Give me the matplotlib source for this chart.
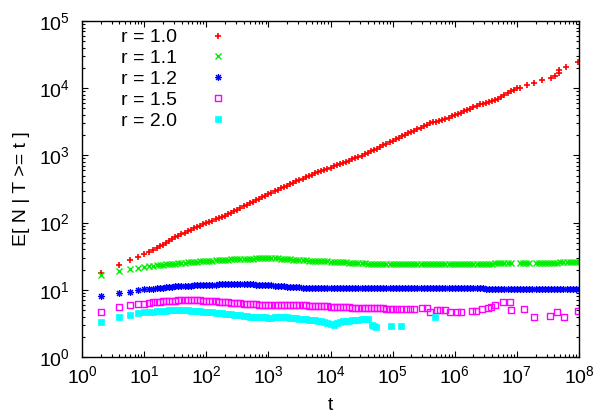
import numpy as np
import matplotlib
matplotlib.use("Agg")
import matplotlib.pyplot as plt
from matplotlib.path import Path
from matplotlib.ticker import LogLocator, NullFormatter

plt.rcParams['font.family'] = ['Liberation Sans', 'DejaVu Sans']
plt.rcParams['font.size'] = 14

# Shared sampling times: even t up to 20, then ~20 samples per decade
T_GRID = [
    2, 4, 6, 8, 10, 12, 14, 16, 18, 20,
    22.4, 25.1, 28.2, 31.6, 35.5, 39.8, 44.7, 50.1, 56.2, 63.1, 70.8, 79.4, 89.1,
    1.00e2, 1.12e2, 1.26e2, 1.41e2, 1.58e2, 1.78e2, 2.00e2, 2.24e2, 2.51e2, 2.82e2,
    3.16e2, 3.55e2, 3.98e2, 4.47e2, 5.01e2, 5.62e2, 6.31e2, 7.08e2, 7.94e2, 8.91e2,
    1.00e3, 1.12e3, 1.26e3, 1.41e3, 1.58e3, 1.78e3, 2.00e3, 2.24e3, 2.51e3, 2.82e3,
    3.16e3, 3.55e3, 3.98e3, 4.47e3, 5.01e3, 5.62e3, 6.31e3, 7.08e3, 7.94e3, 8.91e3,
    1.00e4, 1.12e4, 1.26e4, 1.41e4, 1.58e4, 1.78e4, 2.00e4, 2.24e4, 2.51e4, 2.82e4,
    3.16e4, 3.55e4, 3.98e4, 4.47e4, 5.01e4, 5.62e4, 6.31e4, 7.08e4, 7.94e4, 8.91e4,
    1.00e5, 1.12e5, 1.26e5, 1.41e5, 1.58e5, 1.78e5, 2.00e5, 2.24e5, 2.51e5, 2.82e5,
    3.16e5, 3.55e5, 3.98e5, 4.47e5, 5.01e5, 5.62e5, 6.31e5, 7.08e5, 7.94e5, 8.91e5,
    1.00e6, 1.12e6, 1.26e6, 1.41e6, 1.58e6, 1.78e6, 2.00e6, 2.24e6, 2.51e6, 2.82e6,
    3.16e6, 3.55e6, 3.98e6, 4.47e6, 5.01e6, 5.62e6, 6.31e6, 7.08e6, 7.94e6, 8.91e6,
    1.00e7, 1.12e7, 1.26e7, 1.41e7, 1.58e7, 1.78e7, 2.00e7, 2.24e7, 2.51e7, 2.82e7,
    3.16e7, 3.55e7, 3.98e7, 4.47e7, 5.01e7, 5.62e7, 6.31e7, 7.08e7, 7.94e7, 8.91e7,
    1.00e8,
]

nan = float('nan')

# r = 1.0
R10_VALS = [
    17.6, 23.4, 27.7, 30.4, 33.7, 36.9, 39.4, 42.2, 44.2, 46.5,
    49.5, 53.1, 56.9, 60.3, 63.8, 67.6, 70.8, 74.1, 78.5, 82.2, 86.1, 90.2, 94.4,
    97.7, 102, 107, 112, 117, 123, 127, 133, 141, 148, 155, 164, 174, 182, 193, 204, 214, 226, 237, 251,
    263, 279, 292, 309, 324, 339, 355, 376, 394, 412, 432, 452, 473, 495, 519, 543, 569, 589, 612, 631,
    656, 684, 708, 736, 767, 794, 832, 871, 912, 944, 989, 1035, 1084, 1148, 1202, 1259, 1334, 1413, 1479, 1567,
    1660, 1758, 1841, 1950, 2042, 2138, 2239, 2344, 2455, 2570, 2723, 2851, 2985, 3090, 3162, 3273, 3388, 3508, 3631, 3802,
    3981, 4121, 4315, 4519, 4732, 4955, 5188, 5495, 5754, 5888, 6026, 6166, 6457, 6683, 6998, 7413, 7852, 8511, 9120, 9550,
]
R10_TAIL_T = [1.0e7, 1.12e7, 1.45e7, 1.9e7, 2.5e7, 3.53e7, 4.04e7, 4.68e7, 4.85e7, 6.15e7, 9.8e7]
R10_TAIL_V = [10000, 10100, 11000, 12100, 13200, 14300, 15200, 16700, 18700, 20500, 24300]

# r = 1.1
R11_VALS = [
    16.6, 19.0, 20.4, 21.3, 21.8, 22.3, 22.7, 23.0, 23.3, 23.6,
    23.9, 24.1, 24.3, 24.6, 24.8, 25.1, 25.4, 25.6, 25.8, 26.0, 26.2, 26.4, 26.6,
    26.8, 27.0, 27.2, 27.4, 27.6, 27.8, 28.0, 28.2, 28.3, 28.5, 28.6, 28.8, 28.9, 29.0, 29.1, 29.2, 29.3, 29.4, 29.4, 29.5,
    29.5, 29.5, 29.4, 29.3, 29.1, 28.9, 28.7, 28.4, 28.2, 28.0, 27.8, 27.6, 27.4, 27.2, 27.0, 26.9, 26.8, 26.7, 26.5, 26.4,
    26.3, 26.2, 26.0, 25.9, 25.7, 25.5, 25.3, 25.2, 25.0, 24.9, 24.8, 24.7, 24.6, 24.5, 24.4, 24.3, 24.2, 24.1, 24.0, 24.0,
    23.9, 23.9, 23.8, 23.8, 23.8, 23.8, 23.8, 23.8, 23.9, 23.9, 23.9, 24.0, 24.0, 24.0, 24.0, 24.0, 24.0, 24.0, 24.0, 24.0,
    24.0, 24.1, 24.1, 24.2, 24.2, 24.3, 24.3, 24.4, 24.4, 24.5, 24.5, 24.6, 24.6, 24.7, 24.7, 24.8, 24.8, 24.9, 24.9, nan,
    nan, 25.0, 25.0, 25.1, 25.1, nan, 25.2, 25.2, 25.3, 25.3, 25.3, 25.4, 25.4, 25.4, 25.5, 25.5, 25.5, 25.6, 25.6, 25.6,
    25.7,
]

# r = 1.2
R12_VALS = [
    8.1, 8.87, 9.4, 9.9, 10.2, 10.3, 10.4, 10.6, 10.7, 10.8,
    10.9, 11.0, 11.1, 11.2, 11.3, 11.35, 11.4, 11.5, 11.55, 11.6, 11.7, 11.75, 11.8,
    11.8, 11.85, 11.9, 11.95, 12.0, 12.0, 12.05, 12.1, 12.1, 12.1, 12.1, 12.1, 12.1, 12.05, 12.0, 12.0, 11.95, 11.9, 11.85, 11.8,
    11.7, 11.6, 11.5, 11.4, 11.3, 11.2, 11.1, 11.0, 10.95, 10.9, 10.85, 10.8, 10.8, 10.75, 10.7, 10.7, 10.65, 10.65, 10.6, 10.6,
    10.6, 10.55, 10.55, 10.5, 10.5, 10.5, 10.5, 10.5, 10.5, 10.5, 10.5, 10.5, 10.5, 10.5, 10.5, 10.5, 10.5, 10.5, 10.5, 10.5,
    10.5, 10.5, 10.5, 10.5, 10.5, 10.5, 10.5, 10.5, 10.5, 10.5, 10.5, 10.5, 10.5, 10.5, 10.5, 10.5, 10.5, 10.5, 10.5, 10.5,
    10.5, 10.5, 10.5, 10.5, 10.5, 10.5, 10.5, 10.5, 10.5, 10.5, 10.45, 10.45, 10.45, 10.45, 10.45, 10.45, 10.45, 10.45, 10.45, 10.45,
    10.4, 10.4, 10.4, 10.4, 10.4, 10.4, 10.4, 10.4, 10.4, 10.4, 10.35, 10.35, 10.35, 10.35, 10.35, 10.35, 10.35, 10.35, 10.35, 10.35,
    10.3,
]

# r = 1.5
R15_VALS = [
    4.72, 5.49, 5.87, 6.08, 6.25, 6.4, 6.5, 6.6, 6.65, 6.7,
    6.75, 6.8, 6.85, 6.9, 6.95, 6.97, 7.0, 7.0, 7.0, 7.0, 6.97, 6.95, 6.9,
    6.85, 6.8, 6.75, 6.7, 6.65, 6.6, 6.55, 6.5, 6.45, 6.4, 6.35, 6.3, 6.25, 6.2, 6.15, 6.1, 6.05, 6.0, 6.0, 5.95,
    5.95, 5.95, 5.95, 5.95, 5.95, 5.95, 5.95, 5.95, 5.9, 5.9, 5.9, 5.85, 5.85, 5.8, 5.8, 5.75, 5.75, 5.7, 5.7, 5.65,
    5.6, 5.6, 5.55, 5.55, 5.5, 5.5, 5.5, 5.45, 5.45, 5.45, 5.4, 5.4, 5.4, 5.35, 5.35, 5.3, 5.3, 5.3, 5.25, 5.25,
]
R15_TAIL_T = [1.0e5, 1.17e5, 1.38e5, 1.62e5, 1.91e5, 2.24e5, 2.95e5, 3.55e5, 3.98e5, 5.13e5,
              5.82e5, 7.0e5, 8.43e5, 1.07e6, 1.26e6, 1.88e6, 2.19e6, 2.73e6, 3.39e6, 3.89e6,
              4.47e6, 5.89e6, 7.76e6, 8.13e6, 1.32e7, 1.86e7, 3.47e7, 4.47e7, 5.75e7, 9.77e7]
R15_TAIL_V = [5.12, 5.12, 5.12, 5.1, 5.12, 5.15, 5.35, 5.4, 4.62, 4.95,
              4.95, 5.0, 4.62, 4.72, 4.72, 4.84, 4.9, 5.13, 5.42, 5.6,
              5.87, 6.52, 6.65, 5.0, 5.18, 3.94, 4.12, 4.62, 3.9, 4.84]

# r = 2.0
R20_VALS = [
    3.36, 3.98, 4.22, 4.47, 4.6, 4.7, 4.75, 4.8, 4.85, 4.88,
    4.9, 4.93, 4.95, 4.96, 4.96, 4.96, 4.95, 4.93, 4.9, 4.87, 4.84, 4.8, 4.75,
    4.7, 4.65, 4.6, 4.55, 4.5, 4.45, 4.4, 4.35, 4.3, 4.25, 4.2, 4.15, 4.1, 4.05, 4.0, 3.98, 3.95, 3.92, 3.9, 3.88,
    3.85, 3.85, 3.9, 3.95, 3.95, 3.92, 3.88, 3.82, 3.78, 3.75, 3.72, 3.7, 3.65, 3.6, 3.55, 3.5, 3.45, 3.4, 3.35, 3.25,
    3.1, 3.0, 3.2, 3.35, 3.45, 3.45, 3.45, 3.5, 3.55, 3.6, 3.65, 3.7, 3.65,
]
R20_TAIL_T = [4.62e4, 5.0e4, 5.42e4, 9.33e4, 1.35e5, 4.83e5]
R20_TAIL_V = [3.0, 2.85, 2.77, 2.92, 2.92, 3.98]

LABELS = ['r = 1.0', 'r = 1.1', 'r = 1.2', 'r = 1.5', 'r = 2.0']

# open square with a centre dot
sq_dot = Path(
    [(-1, -1), (1, -1), (1, 1), (-1, 1), (-1, -1),
     (-0.12, -0.12), (0.12, -0.12), (0.12, 0.12), (-0.12, 0.12), (-0.12, -0.12)],
    [Path.MOVETO, Path.LINETO, Path.LINETO, Path.LINETO, Path.CLOSEPOLY,
     Path.MOVETO, Path.LINETO, Path.LINETO, Path.LINETO, Path.CLOSEPOLY])

series = [
    (R10_VALS, R10_TAIL_T, R10_TAIL_V, dict(marker='+', color='#ff0000', ms=5.0, mew=1.2)),
    (R11_VALS, [], [], dict(marker='x', color='#00ee00', ms=4.0, mew=1.0)),
    (R12_VALS, [], [], dict(marker=(8, 2, 0), color='#0000ff', ms=5.0, mew=0.8)),
    (R15_VALS, R15_TAIL_T, R15_TAIL_V, dict(marker=sq_dot, color='#ff00ff', mfc='none', ms=4.2, mew=1.0)),
    (R20_VALS, R20_TAIL_T, R20_TAIL_V, dict(marker='s', color='#00ffff', ms=4.2, mew=0.5)),
]

fig = plt.figure(figsize=(6.05, 4.18), dpi=100)
ax = fig.add_axes([82 / 605, 1 - 357 / 418, (579 - 82) / 605, (357 - 21) / 418])

for (vals, tt, tv, style), lab in zip(series, LABELS):
    t = list(T_GRID[:len(vals)]) + list(tt)
    v = list(vals) + list(tv)
    ax.plot(t, v, linestyle='none', label=lab, **style)

ax.set_xscale('log')
ax.set_yscale('log')
ax.set_xlim(1, 1e8)
ax.set_ylim(1, 1e5)

ax.xaxis.set_major_locator(LogLocator(base=10, numticks=20))
ax.yaxis.set_major_locator(LogLocator(base=10, numticks=20))
ax.xaxis.set_minor_locator(LogLocator(base=10, subs=np.arange(2, 10), numticks=100))
ax.yaxis.set_minor_locator(LogLocator(base=10, subs=np.arange(2, 10), numticks=100))
ax.xaxis.set_minor_formatter(NullFormatter())
ax.yaxis.set_minor_formatter(NullFormatter())

ax.tick_params(which='both', direction='in', top=True, right=True, width=0.8, colors='black')
ax.tick_params(which='major', length=4.5)
ax.tick_params(which='minor', length=2.3)
ax.tick_params(axis='x', which='major', pad=6, labelsize=14)
ax.tick_params(axis='y', which='major', pad=9, labelsize=14)
for s in ax.spines.values():
    s.set_linewidth(1.0)

ax.set_xlabel('t', fontsize=14, labelpad=7)
ax.set_ylabel('E[ N | T >= t ]', fontsize=14)
ax.yaxis.set_label_coords(-0.104, 0.5)

ax.legend(loc='upper left', bbox_to_anchor=(0.059, 1.006), frameon=False,
          markerfirst=False, numpoints=1, handlelength=1.0, handletextpad=1.62,
          labelspacing=0.17, borderpad=0.0, fontsize=14)

fig.savefig('out.png', dpi=100)
